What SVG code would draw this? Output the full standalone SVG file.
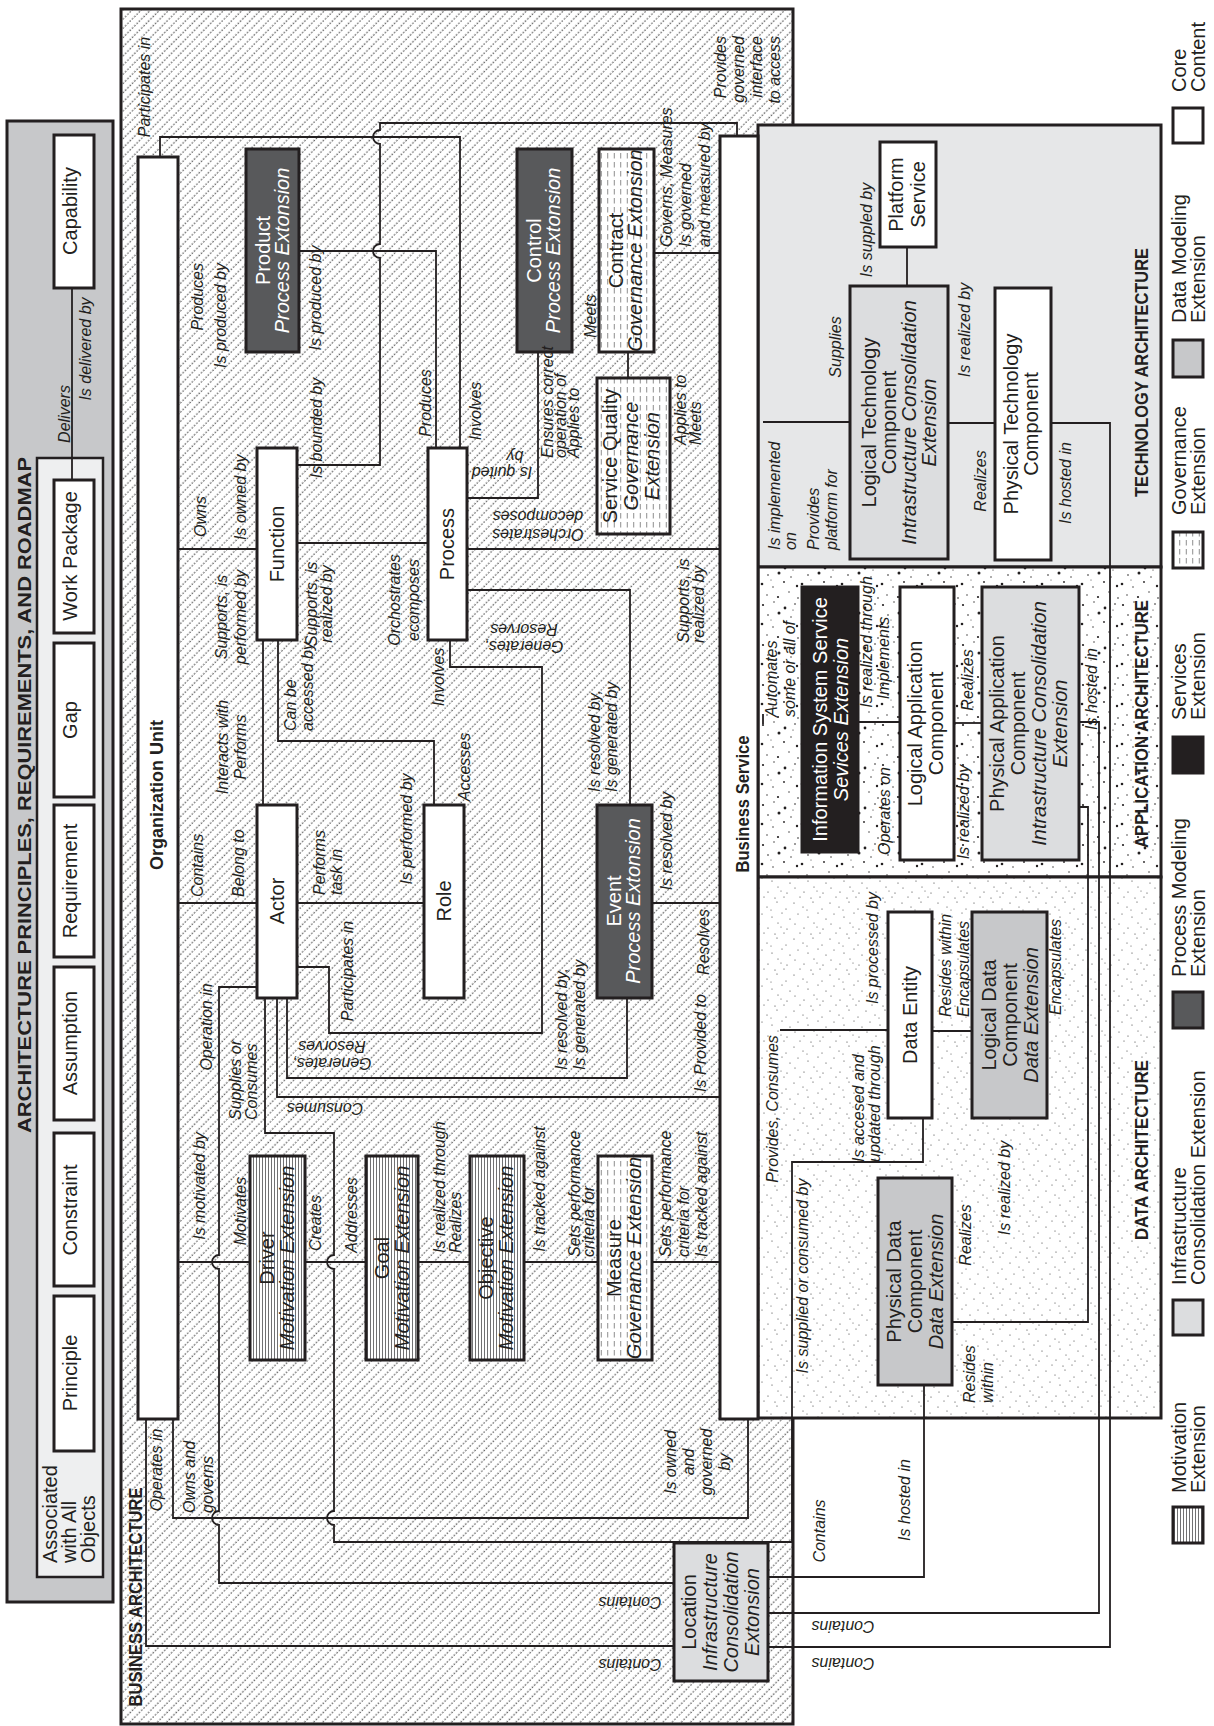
<svg xmlns="http://www.w3.org/2000/svg" width="1214" height="1726" viewBox="0 0 1214 1726">
<style>
.box{stroke:#231f20;stroke-width:3}
.wh{fill:#fff}
.dk{fill:#58595b}
.bk{fill:#231f20}
.ic{fill:#dcdddf}
.dm{fill:#c7c8ca}
.mo{fill:url(#mot)}
.gv{fill:url(#gov)}
.c{fill:none;stroke:#231f20;stroke-width:1.8}
text{font-family:"Liberation Sans",Arial,sans-serif;fill:#231f20}
.n{font-size:20px;text-anchor:middle}
.i{font-style:italic}
.tw{fill:#fff}
.l{font-size:16px;font-style:italic}
.m{text-anchor:middle}
.e{text-anchor:end}
.h{font-weight:bold;font-size:19px;text-anchor:middle}
.lg{font-size:20px}
</style>
<defs>
<pattern id="hatch" patternUnits="userSpaceOnUse" width="6.5" height="6.5" patternTransform="rotate(45)">
<rect width="6.5" height="6.5" fill="#fff"/>
<line x1="3" y1="0" x2="3" y2="6.5" stroke="#3a3a3a" stroke-width="1" stroke-dasharray="1.6 1.65"/>
</pattern>
<pattern id="dotsA" patternUnits="userSpaceOnUse" width="40" height="40">
<rect width="40" height="40" fill="#fff"/>
<g fill="#231f20">
<circle cx="3" cy="5" r="1.1"/><circle cx="14" cy="2" r="0.7"/><circle cx="25" cy="8" r="1.4"/><circle cx="35" cy="4" r="0.8"/>
<circle cx="8" cy="15" r="0.8"/><circle cx="19" cy="13" r="1.5"/><circle cx="31" cy="17" r="0.7"/><circle cx="2" cy="24" r="1.3"/>
<circle cx="13" cy="27" r="0.7"/><circle cx="24" cy="22" r="0.9"/><circle cx="37" cy="26" r="1.2"/><circle cx="7" cy="35" r="0.7"/>
<circle cx="18" cy="37" r="1.1"/><circle cx="29" cy="32" r="0.7"/><circle cx="38" cy="38" r="0.8"/><circle cx="33" cy="10" r="0.6"/><circle cx="11" cy="20" r="0.5"/>
</g>
</pattern>
<pattern id="dotsD" patternUnits="userSpaceOnUse" width="36" height="36">
<rect width="36" height="36" fill="#fff"/>
<g fill="#333">
<circle cx="2" cy="3" r="0.6"/><circle cx="11" cy="7" r="0.55"/><circle cx="21" cy="2" r="0.6"/><circle cx="30" cy="9" r="0.55"/>
<circle cx="6" cy="14" r="0.55"/><circle cx="16" cy="17" r="0.6"/><circle cx="26" cy="13" r="0.55"/><circle cx="34" cy="19" r="0.6"/>
<circle cx="3" cy="24" r="0.55"/><circle cx="12" cy="28" r="0.6"/><circle cx="22" cy="23" r="0.55"/><circle cx="31" cy="29" r="0.6"/>
<circle cx="8" cy="33" r="0.55"/><circle cx="19" cy="34" r="0.6"/><circle cx="28" cy="33" r="0.55"/><circle cx="15" cy="10" r="0.5"/><circle cx="25" cy="27" r="0.5"/>
</g>
</pattern>
<pattern id="mot" patternUnits="userSpaceOnUse" width="3" height="10">
<rect width="3" height="10" fill="#fff"/>
<line x1="1.5" y1="0" x2="1.5" y2="10" stroke="#4d4d4f" stroke-width="0.8"/>
</pattern>
<pattern id="gov" patternUnits="userSpaceOnUse" width="6.5" height="9">
<rect width="6.5" height="9" fill="#fff"/>
<line x1="3.25" y1="0" x2="3.25" y2="5.5" stroke="#555" stroke-width="0.7"/>
</pattern>
</defs>

<!-- Architecture principles panel -->
<g id="principles-panel">
<rect class="box" x="7" y="121" width="106" height="1481" fill="#c7c8ca"/>
<text class="h" font-size="20" transform="translate(31,795) rotate(-90)" textLength="676" lengthAdjust="spacingAndGlyphs">ARCHITECTURE PRINCIPLES, REQUIREMENTS, AND ROADMAP</text>
<rect x="37" y="458" width="66" height="1119" fill="#eeeff0" stroke="#231f20" stroke-width="2.5"/>
<text class="lg" transform="translate(57,1563) rotate(-90)"><tspan x="0" y="0">Associated</tspan><tspan x="0" y="19">with All</tspan><tspan x="0" y="38">Objects</tspan></text>
</g>

<!-- Business architecture region -->
<g id="business-architecture">
<rect class="box" x="121" y="9" width="672" height="1715" fill="url(#hatch)"/>
<text class="h" transform="translate(142,1597) rotate(-90)" textLength="219" lengthAdjust="spacingAndGlyphs">BUSINESS ARCHITECTURE</text>
</g>

<!-- Technology / application / data regions -->
<g id="technology-architecture">
<rect class="box" x="758" y="125" width="403" height="442" fill="#e6e7e8"/>
<text class="h" transform="translate(1148,372.5) rotate(-90)" textLength="249" lengthAdjust="spacingAndGlyphs">TECHNOLOGY ARCHITECTURE</text>
</g>
<g id="application-architecture">
<rect class="box" x="758" y="567" width="403" height="310" fill="url(#dotsA)"/>
<text class="h" transform="translate(1148,724) rotate(-90)" textLength="248" lengthAdjust="spacingAndGlyphs">APPLICATION ARCHITECTURE</text>
</g>
<g id="data-architecture">
<rect class="box" x="758" y="877" width="403" height="541" fill="url(#dotsD)"/>
<text class="h" transform="translate(1148,1150) rotate(-90)" textLength="180" lengthAdjust="spacingAndGlyphs">DATA ARCHITECTURE</text>
</g>

<!-- Connectors -->
<g id="connectors" class="c">
<path d="M72,288 V480"/>
<path d="M160,157 V137 H460 V448"/>
<path d="M299,251 H436 V448"/>
<path d="M737,136 V123 H380 V130 A7 7 0 0 0 380,144 V244 A7 7 0 0 0 380,258 V465 H297"/>
<path d="M178,549 H257"/>
<path d="M263,640 V805"/>
<path d="M278,640 V741 H434 V805"/>
<path d="M297,543 H428"/>
<path d="M467,549 H720"/>
<path d="M538,352 V498 H467"/>
<path d="M628,352 V378"/>
<path d="M654,253 H720"/>
<path d="M467,590 H630 V805"/>
<path d="M450,640 V667 H542 V1033 H329 V967 H297"/>
<path d="M178,903 H257"/>
<path d="M297,903 H424"/>
<path d="M652,903 H720"/>
<path d="M287,998 V1078 H627 V998"/>
<path d="M277,998 V1097 H720"/>
<path d="M265,998 V1133 H334 V1255 A7 7 0 0 0 334,1269 V1511 A7 7 0 0 0 334,1525 V1542 H792 V1162 H923 V1118"/>
<path d="M257,987 H219 V1255 A7 7 0 0 0 219,1269 V1511 A7 7 0 0 0 219,1525 V1583 H674"/>
<path d="M178,1262 H250"/>
<path d="M305,1262 H366"/>
<path d="M418,1262 H470"/>
<path d="M524,1262 H598"/>
<path d="M652,1262 H720"/>
<path d="M173,1419 V1518 H748 V1419"/>
<path d="M146,1419 V1646 H674"/>
<path d="M768,1577 H924 V1385"/>
<path d="M768,1613 H1099 V722 H1079"/>
<path d="M768,1647 H1110 V423 H1051"/>
<path d="M1079,807 H1088 V1322 H952"/>
<path d="M932,1031 H972"/>
<path d="M780,1030 H888"/>
<path d="M858,722 H900"/>
<path d="M954,723 H982"/>
<path d="M907,247 V286"/>
<path d="M948,423 H995"/>
<path d="M763,422 H850"/>
<path d="M763,714 V724"/>
</g>

<!-- Principles panel nodes -->
<g id="capability"><rect class="box wh" x="54" y="135" width="40" height="153"/><text class="n" transform="translate(77,211) rotate(-90)">Capability</text></g>
<g id="work-package"><rect class="box wh" x="54" y="480" width="40" height="153"/><text class="n" transform="translate(77,556) rotate(-90)">Work Package</text></g>
<g id="gap"><rect class="box wh" x="54" y="643" width="40" height="154"/><text class="n" transform="translate(77,720) rotate(-90)">Gap</text></g>
<g id="requirement"><rect class="box wh" x="54" y="805" width="40" height="152"/><text class="n" transform="translate(77,881) rotate(-90)">Requirement</text></g>
<g id="assumption"><rect class="box wh" x="54" y="967" width="40" height="153"/><text class="n" transform="translate(77,1043) rotate(-90)">Assumption</text></g>
<g id="constraint"><rect class="box wh" x="54" y="1133" width="40" height="153"/><text class="n" transform="translate(77,1210) rotate(-90)">Constraint</text></g>
<g id="principle"><rect class="box wh" x="54" y="1296" width="40" height="155"/><text class="n" transform="translate(77,1373) rotate(-90)">Principle</text></g>

<!-- Business nodes -->
<g id="organization-unit"><rect class="box wh" x="138" y="157" width="40" height="1262"/><text class="h" font-size="18" transform="translate(163,795) rotate(-90)" textLength="150" lengthAdjust="spacingAndGlyphs">Organization Unit</text></g>
<g id="business-service"><rect class="box wh" x="720" y="136" width="38" height="1283"/><text class="h" font-size="18" transform="translate(749,804) rotate(-90)" textLength="137" lengthAdjust="spacingAndGlyphs">Business Service</text></g>
<g id="product"><rect class="box dk" x="246" y="149" width="53" height="203"/><text class="n tw" font-size="19" transform="translate(270,250.5) rotate(-90)"><tspan x="0" y="0">Product</tspan><tspan class="i" x="0" y="19">Process Extonsion</tspan></text></g>
<g id="control"><rect class="box dk" x="517" y="149" width="55" height="203"/><text class="n tw" font-size="19" transform="translate(541,250.5) rotate(-90)"><tspan x="0" y="0">Control</tspan><tspan class="i" x="0" y="19">Process Extonsion</tspan></text></g>
<g id="contract"><rect class="box gv" x="599" y="149" width="55" height="203"/><text class="n" font-size="19" transform="translate(623,250.5) rotate(-90)"><tspan x="0" y="0">Contract</tspan><tspan class="i" x="0" y="19">Governance Extonsion</tspan></text></g>
<g id="service-quality"><rect class="box gv" x="597" y="378" width="73" height="156"/><text class="n" font-size="19" transform="translate(617,456) rotate(-90)"><tspan x="0" y="0">Service Quality</tspan><tspan class="i" x="0" y="21">Governance</tspan><tspan class="i" x="0" y="42">Extension</tspan></text></g>
<g id="function"><rect class="box wh" x="257" y="448" width="40" height="192"/><text class="n" transform="translate(284,544) rotate(-90)">Function</text></g>
<g id="process"><rect class="box wh" x="428" y="448" width="39" height="192"/><text class="n" transform="translate(454,544) rotate(-90)">Process</text></g>
<g id="actor"><rect class="box wh" x="257" y="805" width="40" height="193"/><text class="n" transform="translate(284,901) rotate(-90)">Actor</text></g>
<g id="role"><rect class="box wh" x="424" y="805" width="40" height="193"/><text class="n" transform="translate(451,901) rotate(-90)">Role</text></g>
<g id="event"><rect class="box dk" x="597" y="805" width="55" height="193"/><text class="n tw" font-size="19" transform="translate(621,901) rotate(-90)"><tspan x="0" y="0">Event</tspan><tspan class="i" x="0" y="19">Process Extonsion</tspan></text></g>
<g id="driver"><rect class="box mo" x="250" y="1156" width="55" height="204"/><text class="n" font-size="19" transform="translate(274,1258) rotate(-90)"><tspan x="0" y="0">Driver</tspan><tspan class="i" x="0" y="20">Motivation Extension</tspan></text></g>
<g id="goal"><rect class="box mo" x="366" y="1156" width="52" height="204"/><text class="n" font-size="19" transform="translate(389,1258) rotate(-90)"><tspan x="0" y="0">Goal</tspan><tspan class="i" x="0" y="20">Motivation Extension</tspan></text></g>
<g id="objective"><rect class="box mo" x="470" y="1156" width="54" height="204"/><text class="n" font-size="19" transform="translate(493,1258) rotate(-90)"><tspan x="0" y="0">Objective</tspan><tspan class="i" x="0" y="20">Motivation Extension</tspan></text></g>
<g id="measure"><rect class="box gv" x="598" y="1156" width="54" height="204"/><text class="n" font-size="19" transform="translate(621,1258) rotate(-90)"><tspan x="0" y="0">Measure</tspan><tspan class="i" x="0" y="20">Governance Extension</tspan></text></g>
<g id="location"><rect class="box ic" x="674" y="1543" width="94" height="138"/><text class="n" transform="translate(696,1612) rotate(-90)"><tspan x="0" y="0">Location</tspan><tspan class="i" x="0" y="21">Infrastructure</tspan><tspan class="i" x="0" y="42">Consolidation</tspan><tspan class="i" x="0" y="63">Extonsion</tspan></text></g>

<!-- Technology nodes -->
<g id="platform-service"><rect class="box wh" x="880" y="142" width="56" height="105"/><text class="n" font-size="22" transform="translate(903,194.5) rotate(-90)"><tspan x="0" y="0">Platform</tspan><tspan x="0" y="22">Service</tspan></text></g>
<g id="logical-technology-component"><rect class="box ic" x="850" y="286" width="98" height="273"/><text class="n" transform="translate(876,422.5) rotate(-90)"><tspan x="0" y="0">Logical Technology</tspan><tspan x="0" y="20">Component</tspan><tspan class="i" x="0" y="40">Intrastructure Consolidation</tspan><tspan class="i" x="0" y="60">Extension</tspan></text></g>
<g id="physical-technology-component"><rect class="box wh" x="995" y="288" width="56" height="272"/><text class="n" transform="translate(1018,424) rotate(-90)"><tspan x="0" y="0">Physical Technology</tspan><tspan x="0" y="20">Component</tspan></text></g>

<!-- Application nodes -->
<g id="information-system-service"><rect class="box bk" x="802" y="587" width="56" height="265"/><text class="n tw" transform="translate(827,719.5) rotate(-90)"><tspan x="0" y="0">Information System Service</tspan><tspan class="i" x="0" y="21">Sevices Extension</tspan></text></g>
<g id="logical-application-component"><rect class="box wh" x="900" y="587" width="54" height="273"/><text class="n" transform="translate(922,723.5) rotate(-90)"><tspan x="0" y="0">Logical Application</tspan><tspan x="0" y="21">Component</tspan></text></g>
<g id="physical-application-component"><rect class="box ic" x="982" y="587" width="97" height="273"/><text class="n" transform="translate(1004,723.5) rotate(-90)"><tspan x="0" y="0">Physical Application</tspan><tspan x="0" y="21">Component</tspan><tspan class="i" x="0" y="42">Intrastructure Consolidation</tspan><tspan class="i" x="0" y="63">Extension</tspan></text></g>

<!-- Data nodes -->
<g id="data-entity"><rect class="box wh" x="888" y="912" width="44" height="206"/><text class="n" transform="translate(917,1015) rotate(-90)">Data Entity</text></g>
<g id="logical-data-component"><rect class="box dm" x="972" y="912" width="75" height="206"/><text class="n" transform="translate(996,1015) rotate(-90)"><tspan x="0" y="0">Logical Data</tspan><tspan x="0" y="21">Component</tspan><tspan class="i" x="0" y="42">Data Extension</tspan></text></g>
<g id="physical-data-component"><rect class="box dm" x="878" y="1178" width="74" height="207"/><text class="n" transform="translate(901,1281.5) rotate(-90)"><tspan x="0" y="0">Physical Data</tspan><tspan x="0" y="21">Component</tspan><tspan class="i" x="0" y="42">Data Extension</tspan></text></g>

<!-- Connector labels -->
<g id="labels">
<text class="l m" transform="translate(70,414) rotate(-90)">Delivers</text>
<text class="l m" transform="translate(91,349) rotate(-90)">Is delivered by</text>
<text class="l m" transform="translate(150,87) rotate(-90)">Participates in</text>
<text class="l e" transform="translate(203,263) rotate(-90)">Produces</text>
<text class="l e" transform="translate(226,263) rotate(-90)">Is produced by</text>
<text class="l m" transform="translate(321,298) rotate(-90)">Is produced by</text>
<text class="l m" transform="translate(431,403) rotate(-90)">Produces</text>
<text class="l m" transform="translate(322,428) rotate(-90)">Is bounded by</text>
<text class="l e" transform="translate(726,36) rotate(-90)"><tspan x="0" y="0">Provides</tspan><tspan x="0" y="18">governed</tspan><tspan x="0" y="36">interface</tspan><tspan x="0" y="54">to access</tspan></text>
<text class="l" transform="translate(206,537) rotate(-90)">Owns</text>
<text class="l" transform="translate(246,540) rotate(-90)">Is owned by</text>
<text class="l m" transform="translate(227,617) rotate(-90)"><tspan x="0" y="0">Supports, is</tspan><tspan x="0" y="19">performed by</tspan></text>
<text class="l m" transform="translate(228,747) rotate(-90)"><tspan x="0" y="0">Interacts with</tspan><tspan x="0" y="18">Performs</tspan></text>
<text class="l" transform="translate(296,731) rotate(-90)"><tspan x="0" y="0">Can be</tspan><tspan x="0" y="17">accessed by</tspan></text>
<text class="l m" font-size="15" transform="translate(317,604) rotate(-90)"><tspan x="0" y="0">Supports, is</tspan><tspan x="0" y="15">realized by</tspan></text>
<text class="l m" transform="translate(400,600) rotate(-90)"><tspan x="0" y="0">Orchostrates</tspan><tspan x="0" y="19">ecomposes</tspan></text>
<text class="l m" transform="translate(538,529) rotate(180)"><tspan x="0" y="0">Orchestrates</tspan><tspan x="0" y="18">decomposes</tspan></text>
<text class="l m" transform="translate(502,467) rotate(180)">Is quited</text>
<text class="l m" transform="translate(515,451) rotate(180)">by</text>
<text class="l" font-size="13.5" transform="translate(553,458) rotate(-90)"><tspan x="0" y="0">Ensures correct</tspan><tspan x="0" y="13">operation of</tspan><tspan x="0" y="26">Applies to</tspan></text>
<text class="l m" transform="translate(596,316) rotate(-90)">Meets</text>
<text class="l" transform="translate(686,445) rotate(-90)"><tspan x="0" y="0">Applies to</tspan><tspan x="0" y="15">Meets</tspan></text>
<text class="l" transform="translate(672,247) rotate(-90)"><tspan x="0" y="0">Governs, Measures</tspan><tspan x="0" y="19">Is governed</tspan><tspan x="0" y="38">and measured by</tspan></text>
<text class="l m" transform="translate(481,411) rotate(-90)">Involves</text>
<text class="l m" transform="translate(412,829) rotate(-90)">Is performed by</text>
<text class="l m" transform="translate(470,767) rotate(-90)">Accesses</text>
<text class="l m" transform="translate(444,677) rotate(-90)">Involves</text>
<text class="l m" transform="translate(353,971) rotate(-90)">Participates in</text>
<text class="l m" transform="translate(524,641) rotate(180)"><tspan x="0" y="0">Generates,</tspan><tspan x="0" y="17">Resorves</tspan></text>
<text class="l" transform="translate(600,792) rotate(-90)"><tspan x="0" y="0">Is resolved by,</tspan><tspan x="0" y="17">Is generated by</tspan></text>
<text class="l" transform="translate(689,643) rotate(-90)"><tspan x="0" y="0">Supports, is</tspan><tspan x="0" y="15">realized by</tspan></text>
<text class="l m" transform="translate(332,1058) rotate(180)"><tspan x="0" y="0">Generates,</tspan><tspan x="0" y="17">Resorves</tspan></text>
<text class="l m" transform="translate(325,1103) rotate(180)">Consumes</text>
<text class="l" transform="translate(567,1070) rotate(-90)"><tspan x="0" y="0">Is resolved by,</tspan><tspan x="0" y="18">Is generated by</tspan></text>
<text class="l m" transform="translate(706,1043) rotate(-90)">Is Provided to</text>
<text class="l m" transform="translate(709,942) rotate(-90)">Resolves</text>
<text class="l m" transform="translate(672,841) rotate(-90)">Is resolved by</text>
<text class="l" transform="translate(203,897) rotate(-90)">Contains</text>
<text class="l" transform="translate(244,897) rotate(-90)">Belong to</text>
<text class="l" transform="translate(325,895) rotate(-90)"><tspan x="0" y="0">Performs</tspan><tspan x="0" y="17">task in</tspan></text>
<text class="l m" transform="translate(212,1027) rotate(-90)">Operation in</text>
<text class="l" transform="translate(241,1120) rotate(-90)"><tspan x="0" y="0">Supplies or</tspan><tspan x="0" y="16">Consumes</tspan></text>
<text class="l m" transform="translate(205,1186) rotate(-90)">Is motivated by</text>
<text class="l m" transform="translate(246,1211) rotate(-90)">Motivates</text>
<text class="l m" transform="translate(321,1223) rotate(-90)">Creates</text>
<text class="l m" transform="translate(357,1215) rotate(-90)">Addresses</text>
<text class="l" transform="translate(445,1253) rotate(-90)"><tspan x="0" y="0">Is realized through</tspan><tspan x="0" y="16">Realizes</tspan></text>
<text class="l m" transform="translate(545,1189) rotate(-90)">Is tracked against</text>
<text class="l" font-size="15" transform="translate(580,1257) rotate(-90)"><tspan x="0" y="0">Sets performance</tspan><tspan x="0" y="14">criteria for</tspan></text>
<text class="l" transform="translate(671,1257) rotate(-90)"><tspan x="0" y="0">Sets performance</tspan><tspan x="0" y="18">criteria for</tspan><tspan x="0" y="36">Is tracked against</tspan></text>
<text class="l m" transform="translate(162,1470) rotate(-90)">Operates in</text>
<text class="l" transform="translate(195,1513) rotate(-90)"><tspan x="0" y="0">Owns and</tspan><tspan x="0" y="18">governs</tspan></text>
<text class="l m" transform="translate(676,1462) rotate(-90)"><tspan x="0" y="0">Is owned</tspan><tspan x="0" y="18">and</tspan><tspan x="0" y="36">governed</tspan><tspan x="0" y="54">by</tspan></text>
<text class="l m" transform="translate(630,1597) rotate(180)">Contains</text>
<text class="l m" transform="translate(630,1659) rotate(180)">Contains</text>
<text class="l m" transform="translate(843,1621) rotate(180)">Contains</text>
<text class="l m" transform="translate(843,1658) rotate(180)">Contains</text>
<text class="l m" transform="translate(825,1531) rotate(-90)">Contains</text>
<text class="l m" transform="translate(910,1500) rotate(-90)">Is hosted in</text>
<text class="l m" transform="translate(808,1276) rotate(-90)">Is supplied or consumed by</text>
<text class="l m" transform="translate(778,1109) rotate(-90)">Provides, Consumes</text>
<text class="l" transform="translate(864,1162) rotate(-90)"><tspan x="0" y="0">Is accesed and</tspan><tspan x="0" y="16">updated through</tspan></text>
<text class="l m" transform="translate(878,948) rotate(-90)">Is processed by</text>
<text class="l m" transform="translate(890,811) rotate(-90)">Operates on</text>
<text class="l m" transform="translate(872,642) rotate(-90)">Is realized through</text>
<text class="l m" transform="translate(889,658) rotate(-90)">Implements</text>
<text class="l" transform="translate(777,717) rotate(-90)"><tspan x="0" y="0">Automates</tspan><tspan x="0" y="18">some or all of</tspan></text>
<text class="l m" transform="translate(969,812) rotate(-90)">Is realized by</text>
<text class="l m" transform="translate(973,680) rotate(-90)">Realizes</text>
<text class="l m" transform="translate(1097,689) rotate(-90)">Is hosted in</text>
<text class="l" transform="translate(780,550) rotate(-90)"><tspan x="0" y="0">Is implemented</tspan><tspan x="0" y="16">on</tspan><tspan x="0" y="39">Provides</tspan><tspan x="0" y="57">platform for</tspan></text>
<text class="l m" transform="translate(841,347) rotate(-90)">Supplies</text>
<text class="l m" transform="translate(872,230) rotate(-90)">Is suppled by</text>
<text class="l m" transform="translate(970,330) rotate(-90)">Is realized by</text>
<text class="l m" transform="translate(986,481) rotate(-90)">Realizes</text>
<text class="l m" transform="translate(1071,483) rotate(-90)">Is hosted in</text>
<text class="l" transform="translate(951,1017) rotate(-90)"><tspan x="0" y="0">Resides within</tspan><tspan x="0" y="18">Encapsulates</tspan></text>
<text class="l m" transform="translate(1061,967) rotate(-90)">Encapsulates</text>
<text class="l m" transform="translate(971,1235) rotate(-90)">Realizes</text>
<text class="l m" transform="translate(1010,1188) rotate(-90)">Is realized by</text>
<text class="l" transform="translate(975,1403) rotate(-90)"><tspan x="0" y="0">Resides</tspan><tspan x="0" y="18">within</tspan></text>
</g>

<!-- Legend -->
<g id="legend">
<rect class="box wh" x="1173" y="108" width="30" height="35"/>
<text class="lg" transform="translate(1186,92) rotate(-90)"><tspan x="0" y="0">Core</tspan><tspan x="0" y="19">Content</tspan></text>
<rect class="box dm" x="1173" y="340" width="30" height="37"/>
<text class="lg" transform="translate(1186,323) rotate(-90)"><tspan x="0" y="0">Data Modeling</tspan><tspan x="0" y="19">Extension</tspan></text>
<rect class="box gv" x="1173" y="532" width="30" height="36"/>
<text class="lg" transform="translate(1186,515) rotate(-90)"><tspan x="0" y="0">Governance</tspan><tspan x="0" y="19">Extension</tspan></text>
<rect class="box bk" x="1173" y="737" width="30" height="36"/>
<text class="lg" transform="translate(1186,720) rotate(-90)"><tspan x="0" y="0">Services</tspan><tspan x="0" y="19">Extension</tspan></text>
<rect class="box dk" x="1173" y="992" width="30" height="36"/>
<text class="lg" transform="translate(1186,977) rotate(-90)"><tspan x="0" y="0">Process Modeling</tspan><tspan x="0" y="19">Extension</tspan></text>
<rect class="box ic" x="1173" y="1300" width="30" height="35"/>
<text class="lg" transform="translate(1186,1285) rotate(-90)"><tspan x="0" y="0">Infrastructure</tspan><tspan x="0" y="19">Consolidation Extension</tspan></text>
<rect class="box mo" x="1173" y="1507" width="30" height="36"/>
<text class="lg" transform="translate(1186,1493) rotate(-90)"><tspan x="0" y="0">Motivation</tspan><tspan x="0" y="19">Extension</tspan></text>
</g>
</svg>
